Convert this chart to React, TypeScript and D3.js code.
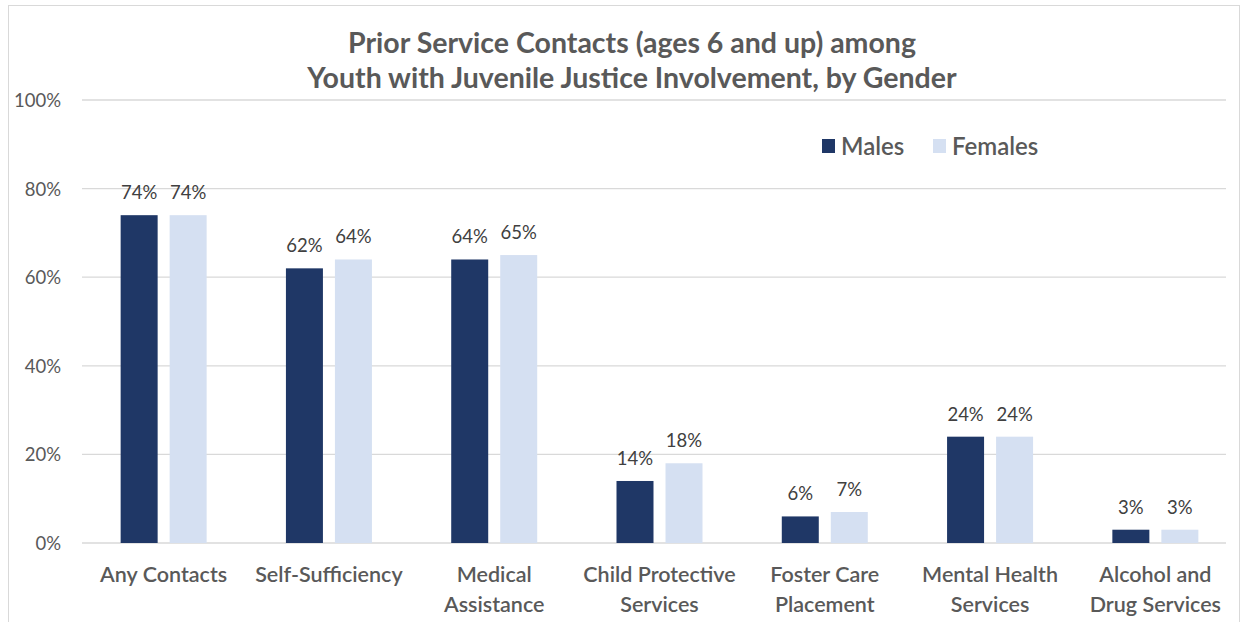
import React, { useEffect, useRef } from "react";
import * as d3 from "d3";

const categories: string[][] = [
  ["Any Contacts"],
  ["Self-Sufficiency"],
  ["Medical", "Assistance"],
  ["Child Protective", "Services"],
  ["Foster Care", "Placement"],
  ["Mental Health", "Services"],
  ["Alcohol and", "Drug Services"],
];
const males = [74, 62, 64, 14, 6, 24, 3];
const females = [74, 64, 65, 18, 7, 24, 3];
const seriesNames = ["Males", "Females"];
const yTicks = [0, 20, 40, 60, 80, 100];
const titleLines = [
  "Prior Service Contacts (ages 6 and up) among",
  "Youth with Juvenile Justice Involvement, by Gender",
];

const W = 1253;
const H = 622;
const FONT = "Lato, 'Open Sans', sans-serif";
const COLORS = ["#1f3766", "#d5e0f2"];

export default function App() {
  const ref = useRef<SVGSVGElement>(null);
  useEffect(() => {
    const svg = d3.select(ref.current);
    svg.selectAll("*").remove();

    svg.append("rect").attr("width", W).attr("height", H).attr("fill", "#fff");
    svg
      .append("rect")
      .attr("x", 8.5)
      .attr("y", 5.5)
      .attr("width", 1231)
      .attr("height", 640)
      .attr("fill", "none")
      .attr("stroke", "#d9d9d9");

    const x0 = d3
      .scaleBand<number>()
      .domain(d3.range(categories.length))
      .range([81, 1238]);
    const band = x0.bandwidth();
    const x1 = d3
      .scaleBand<number>()
      .domain([0, 1])
      .range([band / 2 - 43, band / 2 + 43])
      .paddingInner(0.245)
      .paddingOuter(0);
    const y = d3.scaleLinear().domain([0, 100]).range([543, 100]);

    const g = svg.append("g");
    // gridlines
    g.selectAll("line.grid")
      .data(yTicks)
      .join("line")
      .attr("x1", 82)
      .attr("x2", 1226)
      .attr("y1", (d) => y(d))
      .attr("y2", (d) => y(d))
      .attr("stroke", "#d9d9d9")
      .attr("stroke-width", 1.3);
    g.selectAll("text.ytick")
      .data(yTicks)
      .join("text")
      .attr("x", 61)
      .attr("y", (d) => y(d) + 7)
      .attr("text-anchor", "end")
      .attr("font-family", FONT)
      .attr("font-size", 18.5)
      .attr("fill", "#595959")
      .text((d) => d + "%");

    const series = [males, females];
    series.forEach((vals, si) => {
      g.selectAll(`rect.s${si}`)
        .data(vals)
        .join("rect")
        .attr("x", (_, i) => (x0(i) as number) + (x1(si) as number))
        .attr("width", x1.bandwidth())
        .attr("y", (d) => y(d))
        .attr("height", (d) => y(0) - y(d))
        .attr("fill", COLORS[si]);
      g.selectAll(`text.l${si}`)
        .data(vals)
        .join("text")
        .attr("x", (_, i) => (x0(i) as number) + (x1(si) as number) + x1.bandwidth() / 2)
        .attr("y", (d) => y(d) - 16)
        .attr("text-anchor", "middle")
        .attr("font-family", FONT)
        .attr("font-size", 18.5)
        .attr("fill", "#404040")
        .text((d) => d + "%");
    });

    // category labels
    categories.forEach((lines, i) => {
      const t = g
        .append("text")
        .attr("x", (x0(i) as number) + band / 2)
        .attr("text-anchor", "middle")
        .attr("font-family", FONT)
        .attr("font-size", 21.5)
        .attr("font-weight", 600)
        .attr("fill", "#595959");
      lines.forEach((ln, j) => {
        t.append("tspan")
          .attr("x", (x0(i) as number) + band / 2)
          .attr("y", 582 + j * 30)
          .text(ln);
      });
    });

    // title
    titleLines.forEach((ln, j) => {
      svg
        .append("text")
        .attr("x", 632)
        .attr("y", 53 + j * 35)
        .attr("text-anchor", "middle")
        .attr("font-family", FONT)
        .attr("font-size", 28.5)
        .attr("font-weight", 700)
        .attr("fill", "#595959")
        .text(ln);
    });

    // legend
    const legX = [822, 933];
    seriesNames.forEach((name, i) => {
      svg
        .append("rect")
        .attr("x", legX[i])
        .attr("y", 139)
        .attr("width", 13)
        .attr("height", 14)
        .attr("fill", COLORS[i]);
      svg
        .append("text")
        .attr("x", legX[i] + 19)
        .attr("y", 155)
        .attr("font-family", FONT)
        .attr("font-size", 24)
        .attr("font-weight", 600)
        .attr("fill", "#595959")
        .text(name);
    });
  }, []);
  return (
    <svg
      ref={ref}
      width={W}
      height={H}
      style={{ position: "absolute", left: 0, top: 0 }}
    />
  );
}
